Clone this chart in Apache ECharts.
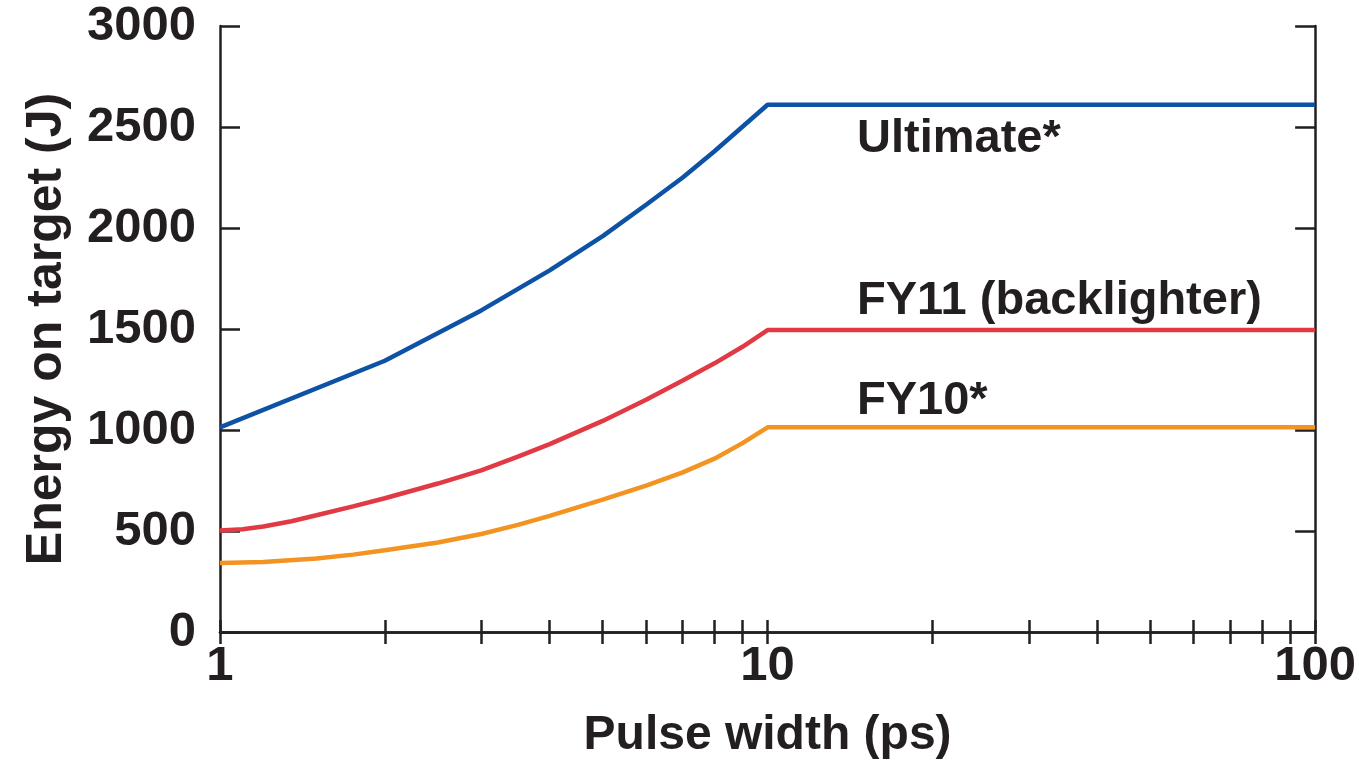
<!DOCTYPE html>
<html>
<head>
<meta charset="utf-8">
<script src="https://cdn.jsdelivr.net/npm/echarts@6/dist/echarts.min.js"></script>
<style>html,body{margin:0;padding:0;background:#fff;}#c{width:1359px;height:765px;}</style>
</head>
<body>
<div id="c"></div>
<script>
// Data
const pulseUltimate = [1, 2, 3, 4, 5, 6, 7, 8, 10, 100];
const energyUltimate = [1013, 1343, 1592, 1790, 1960, 2115, 2250, 2380, 2610, 2610];
const pulseFY11 = [1, 1.1, 1.2, 1.35, 1.5, 1.75, 2, 2.5, 3, 3.5, 4, 5, 6, 7, 8, 9, 10, 100];
const energyFY11 = [502, 509, 522, 548, 578, 622, 662, 735, 800, 868, 930, 1045, 1150, 1245, 1330, 1412, 1495, 1495];
const pulseFY10 = [1, 1.2, 1.5, 1.75, 2, 2.5, 3, 3.5, 4, 5, 6, 7, 8, 9, 10, 100];
const energyFY10 = [342, 346, 364, 383, 405, 443, 485, 530, 575, 655, 725, 790, 858, 935, 1013, 1013];
const xTickValues = [1, 2, 3, 4, 5, 6, 7, 8, 9, 10, 20, 30, 40, 50, 60, 70, 80, 90, 100];
const xLabelValues = [1, 10, 100];
const yTicks = [0, 500, 1000, 1500, 2000, 2500, 3000];
const seriesNames = ['Ultimate*', 'FY11 (backlighter)', 'FY10*'];

const ink = '#231f20';
const font = 'Liberation Sans';
const zip = (xs, ys) => xs.map((x, i) => [x, ys[i]]);

const chart = echarts.init(document.getElementById('c'), null, {renderer: 'canvas'});
chart.setOption({
  animation: false,
  backgroundColor: '#ffffff',
  grid: {left: 220, right: 38, top: 26, bottom: 129, containLabel: false},
  xAxis: [{
    type: 'log', logBase: 10, min: 1, max: 100, position: 'bottom',
    name: 'Pulse width (ps)', nameLocation: 'middle', nameGap: 80,
    nameTextStyle: {fontFamily: font, fontWeight: 'bold', fontSize: 48, color: ink},
    axisLine: {show: true, lineStyle: {color: ink, width: 2.5}},
    axisTick: {show: true, inside: true, length: 12, lineStyle: {color: ink, width: 2.5}, customValues: xTickValues},
    axisLabel: {show: true, customValues: xLabelValues, margin: 10, fontFamily: font, fontWeight: 'bold', fontSize: 49, color: ink},
    splitLine: {show: false}, minorTick: {show: false}
  }, {
    type: 'log', logBase: 10, min: 1, max: 100, position: 'top',
    axisLine: {show: true, lineStyle: {color: ink, width: 2.5}},
    axisTick: {show: true, inside: true, length: 12, lineStyle: {color: ink, width: 2.5}, customValues: xTickValues},
    axisLabel: {show: false}, splitLine: {show: false}
  }],
  yAxis: [{
    type: 'value', min: 0, max: 3000, interval: 500, position: 'left',
    name: 'Energy on target (J)', nameLocation: 'middle', nameGap: 148,
    nameTextStyle: {fontFamily: font, fontWeight: 'bold', fontSize: 50, color: ink},
    axisLine: {show: true, lineStyle: {color: ink, width: 2.5}},
    axisTick: {show: true, inside: true, length: 20, lineStyle: {color: ink, width: 2.5}},
    axisLabel: {show: true, margin: 24, fontFamily: font, fontWeight: 'bold', fontSize: 49, color: ink,
      formatter: v => yTicks.includes(v) ? String(v) : ''},
    splitLine: {show: false}
  }, {
    type: 'value', min: 0, max: 3000, interval: 500, position: 'right',
    axisLine: {show: true, lineStyle: {color: ink, width: 2.5}},
    axisTick: {show: true, inside: true, length: 20, lineStyle: {color: ink, width: 2.5}},
    axisLabel: {show: false}, splitLine: {show: false}
  }],
  series: [{
    name: seriesNames[0], type: 'line', data: zip(pulseUltimate, energyUltimate),
    showSymbol: false, smooth: false, lineStyle: {color: '#0d52a5', width: 4.5}
  }, {
    name: seriesNames[1], type: 'line', data: zip(pulseFY11, energyFY11),
    showSymbol: false, smooth: false, lineStyle: {color: '#e13a44', width: 4.5}
  }, {
    name: seriesNames[2], type: 'line', data: zip(pulseFY10, energyFY10),
    showSymbol: false, smooth: false, lineStyle: {color: '#f39422', width: 4.5}
  }],
  graphic: [
    {type: 'text', x: 857, y: 139, style: {text: seriesNames[0], font: 'bold 47px "Liberation Sans"', fill: ink, textVerticalAlign: 'middle'}},
    {type: 'text', x: 857, y: 301, style: {text: seriesNames[1], font: 'bold 47px "Liberation Sans"', fill: ink, textVerticalAlign: 'middle'}},
    {type: 'text', x: 857, y: 401, style: {text: seriesNames[2], font: 'bold 47px "Liberation Sans"', fill: ink, textVerticalAlign: 'middle'}}
  ]
});
</script>
</body>
</html>
